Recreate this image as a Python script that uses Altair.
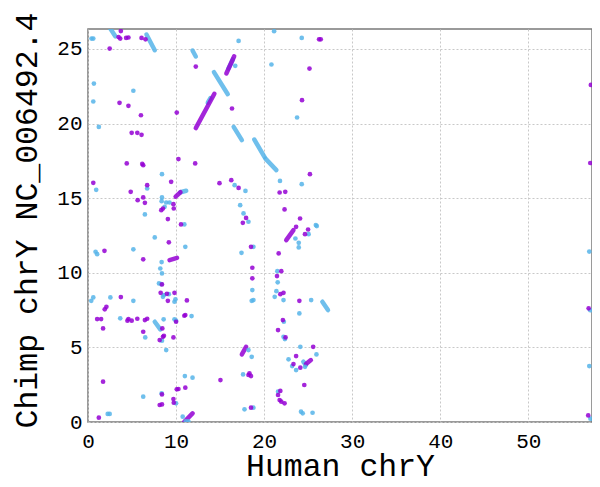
import altair as alt
import pandas as pd

# ---- isolated alignment hits (Mb) ----
blue_x = [0.4, 0.6, 0.67, 5.15, 0.6, 1.23, 0.93, 8.4, 6.72, 8.4, 8.36, 8.88, 9.26, 8.7, 6.46, 10.94,
          17.1, 21.13, 24.27, 16.72, 20.83, 23.74, 16.65, 17.88, 21.8, 24.27, 17.28, 17.66, 18.22, 25.87,
          7.58, 11.05, 0.86, 1.04, 5.15, 8.36, 8.21, 8.4, 8.06, 8.32, 8.62, 9.18, 8.51, 9.93, 9.82, 0.37,
          0.6, 2.54, 5.15, 3.66, 8.59, 9.82, 10.0, 11.76, 6.5, 8.4, 8.88, 11.0, 11.87, 6.27, 8.36, 10.0,
          2.24, 2.46, 10.75, 11.1, 11.4,
          25.98, 23.55, 23.93, 25.05, 23.93, 18.78, 17.43, 21.5, 21.54, 18.66, 18.59, 18.78, 21.39, 21.2,
          22.2, 25.34, 24.0, 22.24, 22.2, 22.36, 24.11, 25.94, 18.22, 18.59, 22.77, 23.18, 23.63, 24.64,
          17.61, 21.58, 17.77, 18.78, 24.19, 24.38, 25.5,
          56.92, 57.03, 56.92, 57.05]
blue_y = [25.7, 25.7, 22.68, 22.2, 21.48, 19.78, 15.56, 16.61, 15.65, 15.05, 14.8, 14.71, 14.71, 14.42, 13.91, 13.24,
          25.54, 26.19, 25.74, 23.87, 23.96, 20.41, 15.87, 15.49, 16.16, 15.94, 14.53, 13.98, 13.42, 13.2,
          12.37, 11.74, 11.41, 11.25, 11.57, 10.72, 10.29, 9.96, 9.29, 9.24, 8.51, 8.57, 8.39, 8.22, 8.06, 8.12,
          8.35, 8.35, 8.12, 6.95, 6.88, 6.88, 6.79, 7.1, 5.67, 5.45, 4.82, 3.08, 2.97, 1.7, 1.92, 1.25,
          0.54, 0.54, 0.36, 0.05, 0.05,
          13.13, 12.3, 12.01, 12.59, 11.7, 11.74, 11.34, 10.11, 9.36, 8.84, 8.12, 8.17, 8.77, 8.39,
          8.17, 8.17, 7.28, 6.72, 5.71, 5.56, 5.04, 4.53, 4.82, 4.37, 4.2, 3.75, 3.48, 3.7,
          3.19, 2.03, 0.85, 0.96, 0.69, 0.58, 0.62,
          11.42, 7.49, 3.75, 0.22]

purple_x = [3.73, 3.47, 3.66, 4.33, 4.59, 6.08, 6.53, 2.46, 12.24, 3.58, 4.59, 6.01, 10.08, 4.96, 5.6, 6.08,
            10.27, 4.4, 6.16, 6.27, 12.17, 0.6, 9.44, 6.72, 4.85, 6.27, 5.64, 6.46, 8.51, 8.32, 9.7, 9.74,
            9.07, 10.56,
            26.24, 26.43, 16.35, 25.15, 24.3, 14.93, 16.27, 17.1, 25.2, 21.76, 22.4, 17.95, 17.58, 22.32, 24.08,
            9.18, 1.87, 6.27, 8.4, 8.25, 8.96, 9.82, 9.07, 11.23, 3.73, 2.09, 1.9, 1.04, 1.49, 4.59, 4.48,
            4.96, 5.6, 6.46, 6.72, 8.44, 10.0, 10.94, 11.05, 1.71, 6.27, 8.51, 8.62, 8.14, 9.7, 1.71, 10.08,
            10.27, 11.05, 9.7, 9.74, 8.14, 8.4, 8.4, 1.23,
            23.63, 24.99, 24.64, 18.51, 21.65, 21.95, 21.46, 18.66, 18.66, 21.84, 22.2, 24.0, 22.13, 21.58,
            22.43, 25.57, 23.63, 23.33, 24.11, 18.33, 18.51, 18.22, 15.04, 24.56, 21.84, 21.58, 21.76, 21.95,
            22.32, 18.51,
            57.1, 57.03, 56.85, 56.8]
purple_y = [26.2, 25.8, 25.7, 25.74, 25.77, 25.74, 25.65, 25.03, 23.82, 21.39, 21.19, 20.56, 20.74, 19.38, 19.38, 19.25,
            17.62, 17.33, 17.3, 17.21, 17.33, 16.03, 16.1, 15.87, 15.43, 15.05, 14.87, 14.69, 14.31, 14.2, 14.6, 14.31,
            13.6, 13.24,
            25.65, 25.65, 21.01, 23.69, 21.57, 16.01, 16.21, 15.69, 16.61, 15.38, 15.43, 13.68, 13.35, 14.25, 13.64,
            12.04, 11.47, 10.9, 9.22, 8.66, 8.59, 8.66, 8.12, 8.15, 8.37, 7.72, 7.55, 6.9, 6.9, 6.9, 6.79,
            6.79, 6.92, 6.83, 6.92, 6.27, 6.72, 7.12, 7.17, 6.27, 6.05, 5.71, 5.78, 5.49, 5.67, 2.7, 2.19,
            2.21, 2.3, 1.54, 1.29, 1.14, 1.18, 1.85, 0.29,
            13.08, 12.9, 12.59, 11.74, 11.3, 10.11, 9.78, 10.34, 9.63, 8.57, 8.66, 8.12, 6.83, 6.16,
            5.67, 5.04, 4.42, 3.88, 3.64, 3.26, 3.08, 3.15, 2.81, 2.48, 2.08, 1.81, 1.47, 1.36,
            1.25, 0.96,
            22.59, 17.36, 7.62, 0.44]

# ---- longer alignment runs (start -> end, Mb) ----
seg_x1 = [2.45, 6.64, 11.87, 13.6, 15.95, 14.3, 16.54, 18.89, 20.15, 10.5, 7.58, 26.61, 24.45,
          12.24, 15.71, 9.95, 9.26, 10.94, 22.51, 17.47, 24.75]
seg_y1 = [26.45, 25.97, 24.9, 21.4, 23.7, 23.45, 19.78, 18.93, 17.65, 15.4, 6.72, 8.06, 4.04,
          19.7, 23.36, 15.1, 10.85, 0.02, 12.19, 4.53, 3.88]
seg_x2 = [3.1, 7.58, 12.24, 13.9, 16.45, 15.87, 17.47, 20.05, 21.39, 11.15, 8.21, 27.25, 24.75,
          14.35, 16.6, 10.5, 10.11, 11.87, 23.33, 17.95, 25.31]
seg_y2 = [25.85, 24.92, 24.5, 21.7, 24.3, 21.97, 18.89, 17.75, 16.88, 15.5, 6.21, 7.5, 3.82,
          22.0, 24.51, 15.4, 11.0, 0.58, 12.86, 5.04, 4.15]
seg_c = ["blue"] * 13 + ["purple"] * 8

x_ticks = [0, 10, 20, 30, 40, 50]
y_ticks = [0, 5, 10, 15, 20, 25]

pts = pd.DataFrame({
    "x": blue_x + purple_x,
    "y": blue_y + purple_y,
    "c": ["blue"] * len(blue_x) + ["purple"] * len(purple_x),
})
segs = pd.DataFrame({"x": seg_x1, "y": seg_y1, "x2": seg_x2, "y2": seg_y2, "c": seg_c})

FONT = "Liberation Mono"
xs = alt.Scale(domain=[0, 57.23], nice=False, zero=False)
ys = alt.Scale(domain=[0, 26.34], nice=False, zero=False)
cs = alt.Scale(domain=["blue", "purple"], range=["#56B4E9", "#9400D3"])

x_axis = alt.Axis(values=x_ticks, title="Human chrY", ticks=False, domain=False, labelFlush=False,
                  labelFontSize=21, labelPadding=8, labelFont=FONT, labelColor="black",
                  titleFont=FONT, titleFontSize=31.5, titleFontWeight="normal", titleColor="black",
                  titleBaseline="alphabetic", titleY=53,
                  gridDash=[2, 2], gridColor="#c8c8c8", gridWidth=1)
y_axis = alt.Axis(values=y_ticks, title="Chimp chrY NC_006492.4", ticks=False, domain=False, labelFlush=False,
                  labelFontSize=21, labelPadding=6, labelFont=FONT, labelColor="black",
                  titleFont=FONT, titleFontSize=31.5, titleFontWeight="normal", titleColor="black",
                  titleBaseline="alphabetic", titleX=-52, titleY=191, titleAngle=270,
                  gridDash=[2, 2], gridColor="#c8c8c8", gridWidth=1)

seg_layer = alt.Chart(segs).mark_rule(strokeWidth=4.5, strokeCap="round", opacity=0.85, clip=True).encode(
    x=alt.X("x:Q", scale=xs, axis=x_axis),
    y=alt.Y("y:Q", scale=ys, axis=y_axis),
    x2="x2:Q",
    y2="y2:Q",
    color=alt.Color("c:N", scale=cs, legend=None),
)
pt_layer = alt.Chart(pts).mark_circle(size=22, opacity=0.85, clip=True).encode(
    x=alt.X("x:Q", scale=xs, axis=x_axis),
    y=alt.Y("y:Q", scale=ys, axis=y_axis),
    color=alt.Color("c:N", scale=cs, legend=None),
)

chart = alt.layer(seg_layer, pt_layer).properties(
    width=504, height=393,
    autosize=alt.AutoSizeParams(type="none"),
    padding={"left": 80, "top": 21, "right": 0, "bottom": 62},
    background="white",
).configure_view(stroke="#7a7a7a", strokeWidth=1.5)

chart.save("out.html", embed_options={"renderer": "svg", "actions": False})
